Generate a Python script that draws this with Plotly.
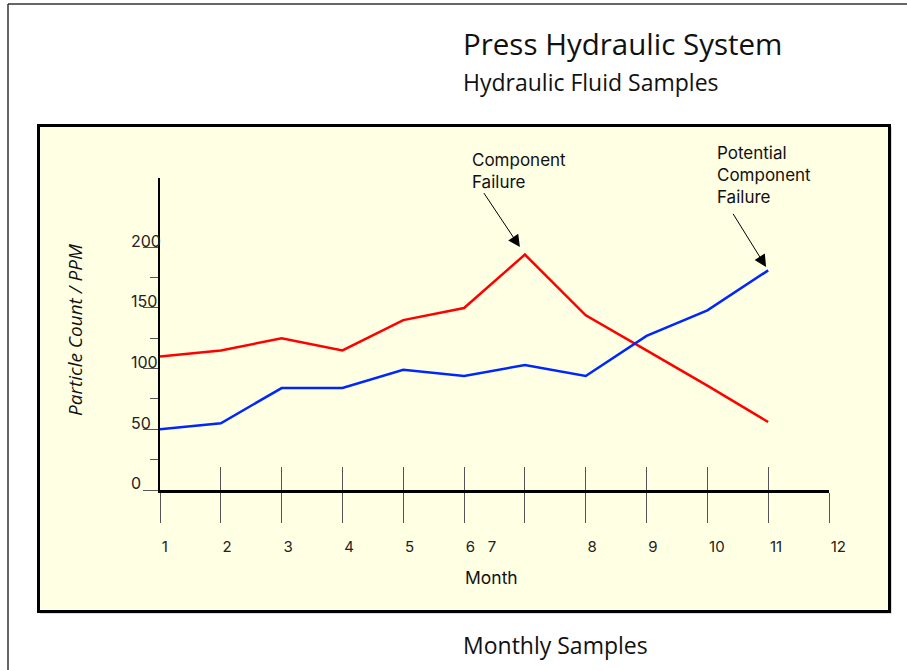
import plotly.graph_objects as go

# ---------------- data ----------------
months = list(range(1, 13))
month_labels = ["1", "2", "3", "4", "5", "6\u00a0\u00a0\u00a07", "", "8", "9", "10", "11", "12"]
sample_months = list(range(1, 12))
red_values = [110, 115, 125, 115, 140, 150, 194, 144, 115, 86, 56]
blue_values = [50, 55, 84, 84, 99, 94, 103, 94, 127, 148, 181]
y_major = [0, 50, 100, 150, 200]
y_major_labels = ["0", "50", "100", "150", "200"]
y_minor = [25, 75, 125, 175]

title_text = "Press Hydraulic System"
subtitle_text = "Hydraulic Fluid Samples"
footer_text = "Monthly Samples"
x_title = "Month"
y_title = "Particle Count / PPM"
note_red = "Component<br>Failure"
note_blue = "Potential<br>Component<br>Failure"

# ---------------- layout geometry (pixels) ----------------
W, H = 907, 670
ML, MR, MT, MB = 100, 78, 178, 160
PW = W - ML - MR
PH = H - MT - MB
AXIS_Y = 490          # pixel row of the x axis
AXIS_TOP = 178        # pixel row of the top of the y axis
PX_PER_UNIT = 1.2135  # vertical scale of the value axis


def px(x):
    return (x - ML) / PW


def py(y):
    return (H - MB - y) / PH


TICK_COLOR = "#555555"
LABEL_FONT = "Inter"
TITLE_FONT = "Open Sans"

fig = go.Figure()

fig.add_trace(go.Scatter(x=sample_months, y=red_values, mode="lines",
                         line=dict(color="#FF0000", width=2.5), showlegend=False,
                         hoverinfo="skip"))
fig.add_trace(go.Scatter(x=sample_months, y=blue_values, mode="lines",
                         line=dict(color="#0026FF", width=2.5), showlegend=False,
                         hoverinfo="skip"))
# invisible helper traces that carry the secondary axes
fig.add_trace(go.Scatter(x=[months[0]], y=[y_major[0]], xaxis="x2", yaxis="y",
                         mode="markers", marker=dict(opacity=0), showlegend=False,
                         hoverinfo="skip"))
fig.add_trace(go.Scatter(x=[months[0]], y=[y_major[0]], xaxis="x3", yaxis="y2",
                         mode="markers", marker=dict(opacity=0), showlegend=False,
                         hoverinfo="skip"))

y_top = (AXIS_Y - AXIS_TOP) / PX_PER_UNIT
y_bottom_ext = -(H - MB - AXIS_Y) / PX_PER_UNIT
xd = [px(160), 1]
yd = [py(AXIS_Y), 1]

fig.update_layout(
    width=W, height=H,
    margin=dict(l=ML, r=MR, t=MT, b=MB, pad=0),
    paper_bgcolor="white",
    plot_bgcolor="rgba(0,0,0,0)",
    showlegend=False,
    xaxis=dict(
        domain=xd, anchor="y", range=[months[0], months[-1]], tickmode="array",
        tickvals=months, ticktext=month_labels,
        ticks="outside", ticklen=30, tickwidth=1, tickcolor=TICK_COLOR,
        ticklabelposition="outside right", ticklabelstandoff=41,
        tickfont=dict(family=LABEL_FONT, size=15, color="#222"),
        showline=True, linecolor="black", linewidth=2.5,
        showgrid=False, zeroline=False, automargin=False, fixedrange=True,
    ),
    xaxis2=dict(
        domain=xd, overlaying="x", anchor="y", side="bottom",
        range=[months[0], months[-1]], tickmode="array", tickvals=months,
        ticks="inside", ticklen=23, tickwidth=1, tickcolor=TICK_COLOR,
        showticklabels=False, showline=False, showgrid=False, zeroline=False,
        automargin=False, fixedrange=True,
    ),
    xaxis3=dict(
        domain=xd, anchor="y2", range=[months[0], months[-1]], visible=False,
        showgrid=False, zeroline=False, automargin=False, fixedrange=True,
    ),
    yaxis=dict(
        domain=yd, anchor="x", range=[0, y_top], tickmode="array", tickvals=y_major,
        ticks="outside", ticklen=15, tickwidth=1, tickcolor=TICK_COLOR,
        showticklabels=False,
        minor=dict(tickmode="array", tickvals=y_minor, ticks="outside", ticklen=8,
                   tickwidth=1, tickcolor=TICK_COLOR, showgrid=False),
        showline=True, linecolor="black", linewidth=2.5,
        showgrid=False, zeroline=False, automargin=False, fixedrange=True,
    ),
    yaxis2=dict(
        domain=[0, 1], anchor="free", position=px(127), side="left",
        range=[y_bottom_ext, y_top], tickmode="array", tickvals=y_major,
        ticktext=y_major_labels,
        ticks="", ticklabelposition="inside top", ticklabelstandoff=0,
        ticklabelshift=5,
        tickfont=dict(family=LABEL_FONT, size=16, color="#222"),
        showline=False, showgrid=False, zeroline=False, automargin=False,
        fixedrange=True,
    ),
)

shapes = [
    # outer frame
    dict(type="line", xref="paper", yref="paper", x0=px(8), x1=px(8), y0=py(4), y1=py(H),
         line=dict(color="#333333", width=1.5)),
    dict(type="line", xref="paper", yref="paper", x0=px(8), x1=px(W), y0=py(4), y1=py(4),
         line=dict(color="#333333", width=1.5)),
    # panel shadow and panel
    dict(type="rect", xref="paper", yref="paper", x0=px(40), x1=px(891.5), y0=py(127), y1=py(613.5),
         fillcolor="#B8B8B8", line=dict(width=0), layer="below"),
    dict(type="rect", xref="paper", yref="paper", x0=px(38.5), x1=px(889.5), y0=py(125.5), y1=py(611.5),
         fillcolor="#FFFFE4", line=dict(color="black", width=3), layer="below"),
]
fig.update_layout(shapes=shapes)

ann = [
    dict(text=title_text, x=px(461), y=py(43), xanchor="left", yanchor="middle",
         font=dict(family=TITLE_FONT, size=29.5, color="#111")),
    dict(text=subtitle_text, x=px(461), y=py(82), xanchor="left", yanchor="middle",
         font=dict(family=TITLE_FONT, size=23, color="#111")),
    dict(text=footer_text, x=px(461), y=py(645), xanchor="left", yanchor="middle",
         font=dict(family=TITLE_FONT, size=23, color="#111")),
    dict(text=x_title, x=px(491.5), y=py(577), xanchor="center", yanchor="middle",
         font=dict(family=LABEL_FONT, size=17.5, color="#111")),
    dict(text=y_title, x=px(75), y=py(330), xanchor="center", yanchor="middle", textangle=-90,
         font=dict(family=TITLE_FONT, size=19, color="#111", style="italic")),
    dict(text=note_red, x=px(470), y=py(148), xanchor="left", yanchor="top", align="left",
         font=dict(family=LABEL_FONT, size=17, color="#111")),
    dict(text=note_blue, x=px(715), y=py(141), xanchor="left", yanchor="top", align="left",
         font=dict(family=LABEL_FONT, size=17, color="#111")),
]
for a in ann:
    a.update(xref="paper", yref="paper", showarrow=False)

ann += [
    dict(text="", x=sample_months[6], y=red_values[6], xref="x", yref="y",
         showarrow=True, ax=-42, ay=-63, axref="pixel", ayref="pixel",
         arrowhead=2, arrowsize=2.4, arrowwidth=1, arrowcolor="black", standoff=9),
    dict(text="", x=sample_months[10], y=blue_values[10], xref="x", yref="y",
         showarrow=True, ax=-36, ay=-58, axref="pixel", ayref="pixel",
         arrowhead=2, arrowsize=2.4, arrowwidth=1, arrowcolor="black", standoff=4),
]
fig.update_layout(annotations=ann)

fig.write_html("out.html", config=dict(displayModeBar=False, staticPlot=True),
               post_script="document.body.style.margin='0';document.body.style.overflow='hidden';")
